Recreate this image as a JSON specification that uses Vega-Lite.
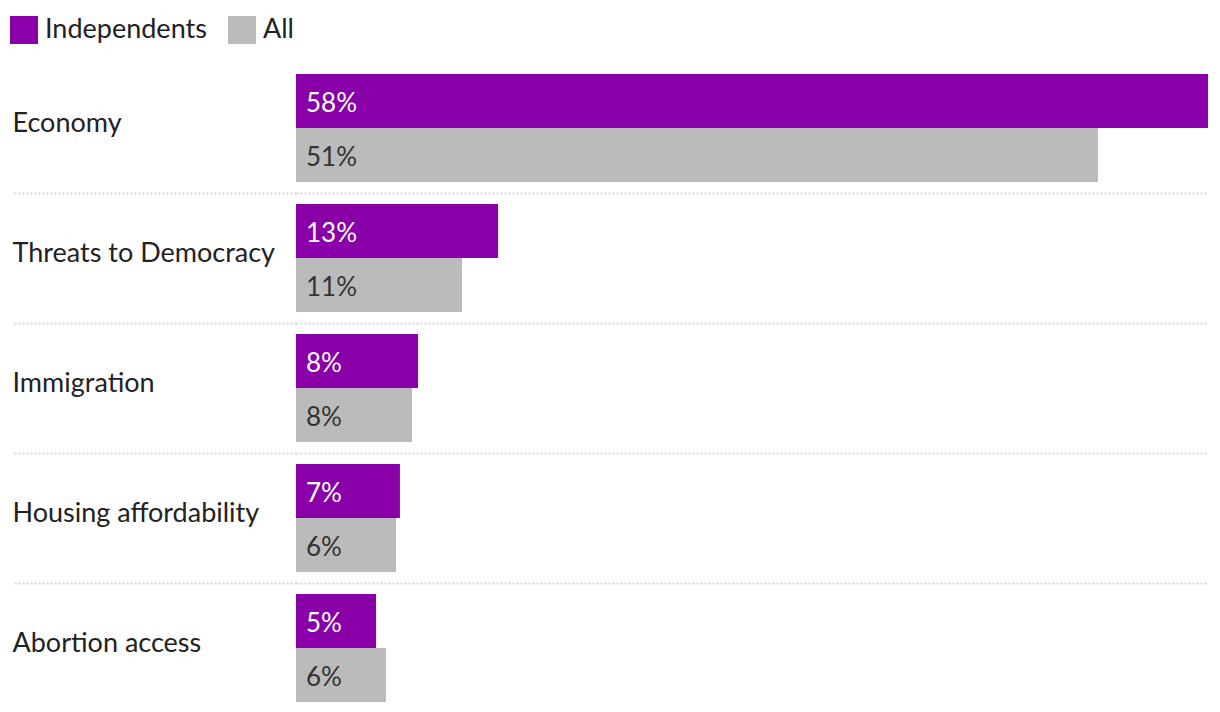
{
  "$schema": "https://vega.github.io/schema/vega-lite/v6.json",
  "autosize": {"type": "none"},
  "padding": {"left": 296, "top": 63, "right": 12, "bottom": 0},
  "width": 912,
  "height": 650,
  "background": "white",
  "data": {
    "values": [
      {"issue": "Economy", "group": "Independents", "value": 58, "label": "58%"},
      {"issue": "Economy", "group": "All", "value": 51, "label": "51%"},
      {"issue": "Threats to Democracy", "group": "Independents", "value": 12.85, "label": "13%"},
      {"issue": "Threats to Democracy", "group": "All", "value": 10.56, "label": "11%"},
      {"issue": "Immigration", "group": "Independents", "value": 7.76, "label": "8%"},
      {"issue": "Immigration", "group": "All", "value": 7.38, "label": "8%"},
      {"issue": "Housing affordability", "group": "Independents", "value": 6.61, "label": "7%"},
      {"issue": "Housing affordability", "group": "All", "value": 6.36, "label": "6%"},
      {"issue": "Abortion access", "group": "Independents", "value": 5.09, "label": "5%"},
      {"issue": "Abortion access", "group": "All", "value": 5.72, "label": "6%"}
    ]
  },
  "encoding": {
    "y": {
      "field": "issue",
      "type": "nominal",
      "sort": ["Economy", "Threats to Democracy", "Immigration", "Housing affordability", "Abortion access"],
      "scale": {"paddingInner": 0, "paddingOuter": 0},
      "axis": {
        "title": null,
        "domain": false,
        "grid": true,
        "gridColor": "#d6d6d6",
        "gridDash": [2, 2],
        "gridWidth": 2,
        "gridOpacity": {"condition": {"test": "datum.value === 'Economy'", "value": 0}, "value": 1},
        "ticks": true,
        "tickSize": 284,
        "tickColor": "#d6d6d6",
        "tickDash": [2, 2],
        "tickWidth": 2,
        "tickOpacity": {"condition": {"test": "datum.value === 'Economy'", "value": 0}, "value": 1},
        "bandPosition": 0,
        "labelAlign": "left",
        "labelPadding": 0,
        "labelOffset": -4,
        "labelBaseline": "middle",
        "labelFontSize": 27,
        "labelFont": "Lato",
        "labelColor": "#222222",
        "labelLimit": 300
      }
    },
    "yOffset": {
      "field": "group",
      "type": "nominal",
      "sort": ["Independents", "All"],
      "scale": {"paddingInner": 0, "paddingOuter": 0.2037}
    }
  },
  "layer": [
    {
      "mark": {"type": "bar", "cornerRadius": 0},
      "encoding": {
        "x": {
          "field": "value",
          "type": "quantitative",
          "scale": {"domain": [0, 58], "nice": false, "zero": true},
          "axis": null
        },
        "color": {
          "field": "group",
          "type": "nominal",
          "scale": {"domain": ["Independents", "All"], "range": ["#8a00a8", "#bbbbbb"]},
          "legend": {
            "title": null,
            "orient": "none",
            "legendX": -286,
            "legendY": -47,
            "direction": "horizontal",
            "symbolType": "square",
            "symbolSize": 784,
            "symbolStrokeWidth": 0,
            "labelFontSize": 27,
            "labelFont": "Lato",
            "labelColor": "#222222",
            "labelLimit": 400,
            "labelOffset": 7,
            "columnPadding": 21,
            "padding": 0
          }
        }
      }
    },
    {
      "mark": {"type": "text", "align": "left", "baseline": "middle", "dx": 10, "dy": 3, "fontSize": 26, "font": "Lato"},
      "encoding": {
        "x": {"datum": 0, "type": "quantitative"},
        "text": {"field": "label"},
        "color": {"condition": {"test": "datum.group === 'Independents'", "value": "#ffffff"}, "value": "#333333"}
      }
    }
  ],
  "config": {"view": {"stroke": null}}
}
